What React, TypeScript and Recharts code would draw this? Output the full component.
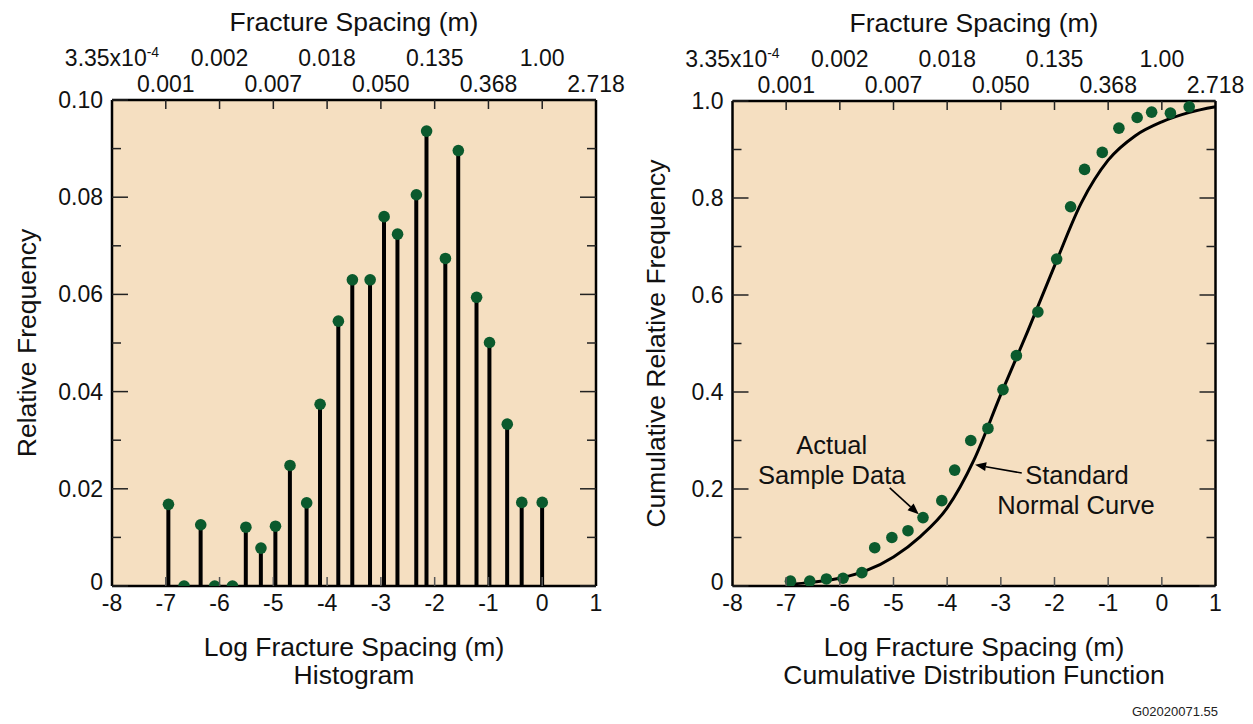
import React from "react";
import {
  ComposedChart,
  Bar,
  Scatter,
  Line,
  XAxis,
  YAxis,
  CartesianGrid,
  ReferenceDot,
  ReferenceLine,
} from "recharts";

// log (natural) fracture spacing axis, bottom and top
const logTicks = [-8, -7, -6, -5, -4, -3, -2, -1, 0, 1];
const spacingLabels = [
  "3.35x10^-4",
  "0.001",
  "0.002",
  "0.007",
  "0.018",
  "0.050",
  "0.135",
  "0.368",
  "1.00",
  "2.718",
];

// histogram (left)
const histX = [
  -6.95, -6.66, -6.35, -6.09, -5.76, -5.51, -5.23, -4.96, -4.69, -4.38, -4.13,
  -3.79, -3.53, -3.2, -2.94, -2.69, -2.34, -2.15, -1.8, -1.56, -1.22, -0.98,
  -0.65, -0.38, 0.0,
];
const histFreq = [
  0.0168, 0, 0.0126, 0, 0, 0.0121, 0.0078, 0.0123, 0.0248, 0.0171, 0.0374,
  0.0545, 0.063, 0.063, 0.076, 0.0724, 0.0805, 0.0936, 0.0674, 0.0896, 0.0594,
  0.0501, 0.0333, 0.0172, 0.0172,
];
const histYTicks = [0, 0.01, 0.02, 0.03, 0.04, 0.05, 0.06, 0.07, 0.08, 0.09, 0.1];
const histYLabels = ["0", "", "0.02", "", "0.04", "", "0.06", "", "0.08", "", "0.10"];

// cumulative distribution (right)
const cdfX = [
  -6.92, -6.56, -6.25, -5.94, -5.59, -5.35, -5.03, -4.73, -4.45, -4.1, -3.86,
  -3.56, -3.24, -2.96, -2.71, -2.31, -1.96, -1.7, -1.44, -1.11, -0.8, -0.46,
  -0.19, 0.16, 0.51,
];
const cdfY = [
  0.01, 0.01, 0.0145, 0.016, 0.0275, 0.079, 0.1, 0.114, 0.141, 0.176, 0.239,
  0.3, 0.325, 0.405, 0.475, 0.565, 0.674, 0.782, 0.859, 0.894, 0.944, 0.966,
  0.977, 0.975, 0.988,
];
const curveX = [-7, -6.5, -6, -5.5, -5, -4.5, -4, -3.5, -3, -2.5, -2, -1.5, -1, -0.5, 0, 0.5, 1];
const curveY = [
  0.003, 0.008, 0.016, 0.032, 0.06, 0.102, 0.161, 0.26, 0.395, 0.525, 0.66,
  0.79, 0.878, 0.928, 0.957, 0.976, 0.988,
];
const cdfYTicks = [0, 0.1, 0.2, 0.3, 0.4, 0.5, 0.6, 0.7, 0.8, 0.9, 1.0];
const cdfYLabels = ["0", "", "0.2", "", "0.4", "", "0.6", "", "0.8", "", "1.0"];

const FONT = '"Liberation Sans", Arial, Helvetica, sans-serif';
const BG = "#f5dfc1";
const GREEN = "#0b5a2d";
const INK = "#111";
const TICK_FS = 23;
const TITLE_FS = 26.5;
const DOT_R = 5.8;

const histData = histX.map((x, i) => ({ x, y: histFreq[i] }));
const cdfData = cdfX.map((x, i) => ({ x, y: cdfY[i] }));
const curveData = curveX.map((x, i) => ({ x, y: curveY[i] }));

function TopTick(props: any) {
  const { x, y, payload, index } = props;
  const v = payload.value;
  const label = spacingLabels[index] ?? "";
  const [base, exp] = label.split("^");
  const row1 = index % 2 === 0;
  return (
    <g>
      {v > -8 && v < 1 && (
        <line x1={x} y1={y} x2={x} y2={y + 9} stroke="#222" strokeWidth={1.5} />
      )}
      <text
        x={x}
        y={row1 ? y - 34 : y - 8}
        textAnchor="middle"
        fontSize={TICK_FS}
        fill={INK}
        fontFamily={FONT}
      >
        {base}
        {exp && (
          <tspan dy={-9} fontSize={14}>
            {exp}
          </tspan>
        )}
      </text>
    </g>
  );
}

function BottomTick(props: any) {
  const { x, y, payload } = props;
  const v = payload.value;
  return (
    <g>
      {v > -8 && v < 1 && (
        <line x1={x} y1={y} x2={x} y2={y - 9} stroke="#555" strokeWidth={1.5} />
      )}
      <text x={x} y={y + 25} textAnchor="middle" fontSize={TICK_FS} fill={INK} fontFamily={FONT}>
        {v}
      </text>
    </g>
  );
}

function makeLeftTick(labels: string[]) {
  return (props: any) => {
    const { x, y, index } = props;
    const lab = labels[index];
    const len = lab ? 16 : 9;
    return (
      <g>
        <line x1={x} y1={y} x2={x + len} y2={y} stroke="#222" strokeWidth={1.5} />
        {lab && (
          <text
            x={x - 9}
            y={index === 0 ? y + 4 : y + 8}
            textAnchor="end"
            fontSize={TICK_FS}
            fill={INK}
            fontFamily={FONT}
          >
            {lab}
          </text>
        )}
      </g>
    );
  };
}

function makeRightTick(labels: string[]) {
  return (props: any) => {
    const { x, y, index } = props;
    const len = labels[index] ? 16 : 9;
    return <line x1={x} y1={y} x2={x - len} y2={y} stroke="#222" strokeWidth={1.5} />;
  };
}

function Arrow(p: any) {
  const { x1, y1, x2, y2 } = p;
  const a = Math.atan2(y2 - y1, x2 - x1);
  const L = 11;
  const W = 4.5;
  const bx = x2 - L * Math.cos(a);
  const by = y2 - L * Math.sin(a);
  const pts = `${x2},${y2} ${bx - W * Math.sin(a)},${by + W * Math.cos(a)} ${bx + W * Math.sin(a)},${by - W * Math.cos(a)}`;
  return (
    <g>
      <line x1={x1} y1={y1} x2={bx} y2={by} stroke="#000" strokeWidth={1.6} />
      <polygon points={pts} fill="#000" />
    </g>
  );
}

const notes = [
  { x: -6.15, y: 0.291, text: "Actual" },
  { x: -6.15, y: 0.229, text: "Sample Data" },
  { x: -1.58, y: 0.229, text: "Standard" },
  { x: -1.6, y: 0.167, text: "Normal Curve" },
];
const arrows = [
  { from: { x: -5.07, y: 0.2025 }, to: { x: -4.53, y: 0.148 } },
  { from: { x: -2.61, y: 0.233 }, to: { x: -3.48, y: 0.25 } },
];

type PanelProps = {
  left: number;
  width: number;
  data?: any[];
  margin: { top: number; right: number; bottom: number; left: number };
  yMax: number;
  yTicks: number[];
  yLabels: string[];
  yTitle: string;
  yTitleOffset: number;
  subtitle: string;
  children: React.ReactNode;
};

function Panel(p: PanelProps) {
  return (
    <div style={{ position: "absolute", left: p.left, top: 0 }}>
      <ComposedChart width={p.width} height={724} margin={p.margin} data={p.data}>
        <CartesianGrid fill={BG} stroke="none" horizontal={false} vertical={false} />
        <XAxis
          dataKey="x"
          type="number"
          domain={[-8, 1]}
          ticks={logTicks}
          allowDataOverflow
          height={40}
          tickSize={0}
          tickMargin={0}
          tickLine={false}
          axisLine={{ stroke: "#000", strokeWidth: 2.5 }}
          tick={<BottomTick />}
          interval={0}
          label={{
            content: (lp: any) => {
              const vb = lp.viewBox || {};
              const cx = vb.x + vb.width / 2;
              return (
                <text textAnchor="middle" fontSize={TITLE_FS} fill={INK} fontFamily={FONT}>
                  <tspan x={cx} y={vb.y + 70}>Log Fracture Spacing (m)</tspan>
                  <tspan x={cx} y={vb.y + 98}>{p.subtitle}</tspan>
                </text>
              );
            },
          }}
        />
        <XAxis
          xAxisId="top"
          orientation="top"
          dataKey="x"
          type="number"
          domain={[-8, 1]}
          ticks={logTicks}
          allowDataOverflow
          height={40}
          tickSize={0}
          tickMargin={0}
          tickLine={false}
          axisLine={{ stroke: "#000", strokeWidth: 2.5 }}
          tick={<TopTick />}
          interval={0}
          label={{
            content: (lp: any) => {
              const vb = lp.viewBox || {};
              return (
                <text
                  x={vb.x + vb.width / 2}
                  y={vb.y + vb.height - 69}
                  textAnchor="middle"
                  fontSize={TITLE_FS}
                  fill={INK}
                  fontFamily={FONT}
                >
                  Fracture Spacing (m)
                </text>
              );
            },
          }}
        />
        <YAxis
          dataKey="y"
          type="number"
          domain={[0, p.yMax]}
          ticks={p.yTicks}
          allowDataOverflow
          width={60}
          tickSize={0}
          tickMargin={0}
          tickLine={false}
          interval={0}
          axisLine={{ stroke: "#000", strokeWidth: 2.5 }}
          tick={makeLeftTick(p.yLabels)}
          label={{
            content: (lp: any) => {
              const vb = lp.viewBox || {};
              const cx = vb.x + vb.width - p.yTitleOffset;
              const cy = vb.y + vb.height / 2;
              return (
                <text
                  x={cx}
                  y={cy}
                  transform={`rotate(-90, ${cx}, ${cy})`}
                  textAnchor="middle"
                  dominantBaseline="central"
                  fontSize={TITLE_FS}
                  fill={INK}
                  fontFamily={FONT}
                >
                  {p.yTitle}
                </text>
              );
            },
          }}
        />
        <YAxis
          yAxisId="right"
          orientation="right"
          type="number"
          domain={[0, p.yMax]}
          ticks={p.yTicks}
          allowDataOverflow
          width={10}
          tickSize={0}
          tickMargin={0}
          tickLine={false}
          interval={0}
          axisLine={{ stroke: "#000", strokeWidth: 2.5 }}
          tick={makeRightTick(p.yLabels)}
        />
        {p.children}
      </ComposedChart>
    </div>
  );
}

export default function App() {
  return (
    <div
      style={{
        position: "absolute",
        left: 0,
        top: 0,
        width: 1253,
        height: 724,
        background: "#fff",
        overflow: "hidden",
      }}
    >
      <Panel
        left={0}
        width={630}
        data={histData}
        margin={{ top: 60, right: 24, bottom: 98, left: 52 }}
        yMax={0.1}
        yTicks={histYTicks}
        yLabels={histYLabels}
        yTitle="Relative Frequency"
        yTitleOffset={85}
        subtitle="Histogram"
      >
        <Bar dataKey="y" barSize={4} fill="#000" isAnimationActive={false} />
        <Scatter
          dataKey="y"
          isAnimationActive={false}
          shape={(s: any) => <circle cx={s.cx} cy={s.cy} r={DOT_R} fill={GREEN} />}
        />
      </Panel>
      <Panel
        left={630}
        width={623}
        margin={{ top: 61, right: 27.5, bottom: 98, left: 42.5 }}
        yMax={1}
        yTicks={cdfYTicks}
        yLabels={cdfYLabels}
        yTitle="Cumulative Relative Frequency"
        yTitleOffset={77}
        subtitle="Cumulative Distribution Function"
      >
        <Line
          data={curveData}
          dataKey="y"
          type="monotone"
          stroke="#000"
          strokeWidth={3}
          dot={false}
          activeDot={false}
          isAnimationActive={false}
        />
        <Scatter
          data={cdfData}
          dataKey="y"
          isAnimationActive={false}
          shape={(s: any) => <circle cx={s.cx} cy={s.cy} r={DOT_R} fill={GREEN} />}
        />
        {arrows.map((a, i) => (
          <ReferenceLine key={`a${i}`} segment={[a.from, a.to]} shape={<Arrow />} />
        ))}
        {notes.map((n, i) => (
          <ReferenceDot
            key={`n${i}`}
            x={n.x}
            y={n.y}
            r={0}
            shape={(s: any) => (
              <text
                x={s.cx}
                y={s.cy}
                textAnchor="middle"
                dominantBaseline="central"
                fontSize={TITLE_FS - 1}
                fill={INK}
                fontFamily={FONT}
              >
                {n.text}
              </text>
            )}
          />
        ))}
      </Panel>
      <div
        style={{
          position: "absolute",
          right: 35,
          top: 704,
          fontSize: 13,
          fontFamily: FONT,
          color: "#222",
        }}
      >
        G02020071.55
      </div>
    </div>
  );
}
